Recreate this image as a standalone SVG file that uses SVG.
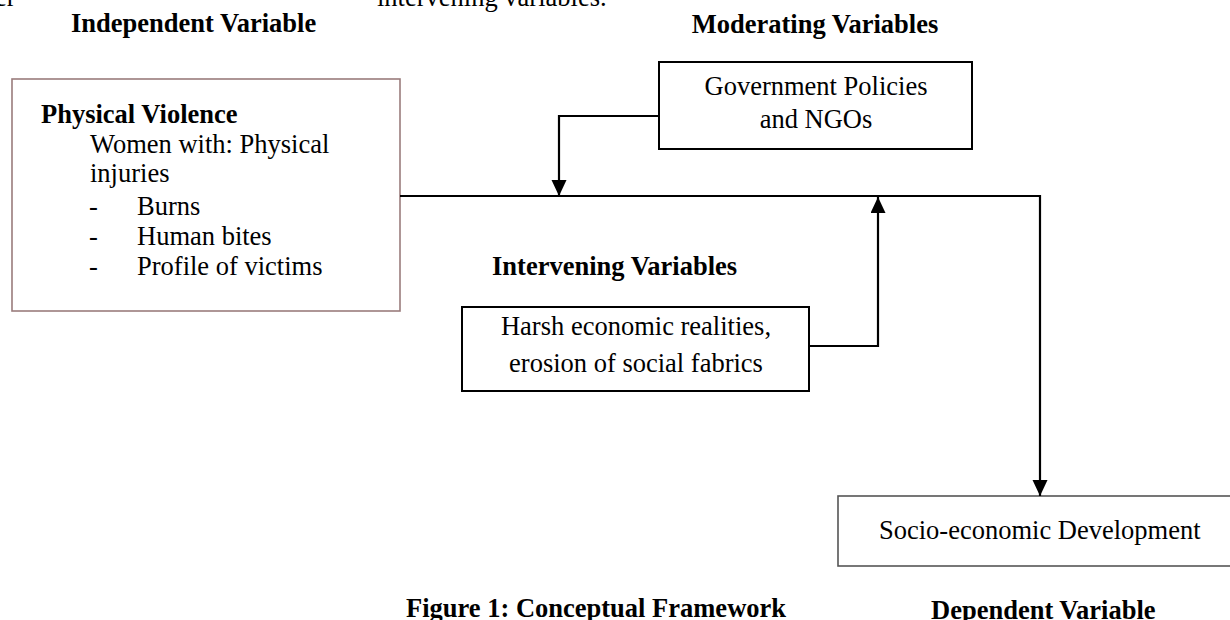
<svg xmlns="http://www.w3.org/2000/svg" width="1230" height="620" viewBox="0 0 1230 620">
<defs>
<style>
text{font-family:"Liberation Serif","Times New Roman",serif;font-size:26.5px;fill:#000}
.b{font-weight:bold}
.c{text-anchor:middle}
.box{fill:#fff;stroke:#000;stroke-width:2}
.conn{fill:none;stroke:#000;stroke-width:2.2}
</style>
<marker id="ah" markerUnits="userSpaceOnUse" markerWidth="16" markerHeight="16" refX="16" refY="7.5" orient="auto">
<path d="M0,0 L16,7.5 L0,15 z" fill="#000"/>
</marker>
</defs>
<rect width="1230" height="620" fill="#fff"/>
<g id="page-fragments">
<text x="-5" y="6">er</text>
<text x="377" y="6">intervening variables.</text>
</g>
<g id="labels">
<text class="b" x="71" y="32">Independent Variable</text>
<text class="b c" x="815" y="33">Moderating Variables</text>
<text class="b" x="492" y="275">Intervening Variables</text>
<text class="b" x="406" y="617">Figure 1: Conceptual Framework</text>
<text class="b" x="931" y="619">Dependent Variable</text>
</g>
<g id="independent">
<rect x="12" y="79" width="388" height="232" fill="#fff" stroke="#9a7c7c" stroke-width="1.6"/>
<text class="b" x="41" y="123">Physical Violence</text>
<text x="90" y="153">Women with: Physical</text>
<text x="90" y="182">injuries</text>
<text x="89" y="215">-</text><text x="137" y="215">Burns</text>
<text x="89" y="245">-</text><text x="137" y="245">Human bites</text>
<text x="89" y="275">-</text><text x="137" y="275">Profile of victims</text>
</g>
<g id="moderating">
<rect class="box" x="659" y="62" width="313" height="87"/>
<text class="c" x="816" y="95">Government Policies</text>
<text class="c" x="816" y="128">and NGOs</text>
</g>
<g id="intervening">
<rect class="box" x="462" y="307" width="347" height="84"/>
<text class="c" x="636" y="335">Harsh economic realities,</text>
<text class="c" x="636" y="372">erosion of social fabrics</text>
</g>
<g id="dependent">
<rect x="838" y="496" width="402" height="70" fill="#fff" stroke="#555" stroke-width="1.6"/>
<text x="879" y="539">Socio-economic Development</text>
</g>
<g id="connectors">
<path class="conn" d="M400,196 H1040 V496" marker-end="url(#ah)"/>
<path class="conn" d="M659,116 H559 V196" marker-end="url(#ah)"/>
<path class="conn" d="M809,346 H878 V197" marker-end="url(#ah)"/>
</g>
</svg>
